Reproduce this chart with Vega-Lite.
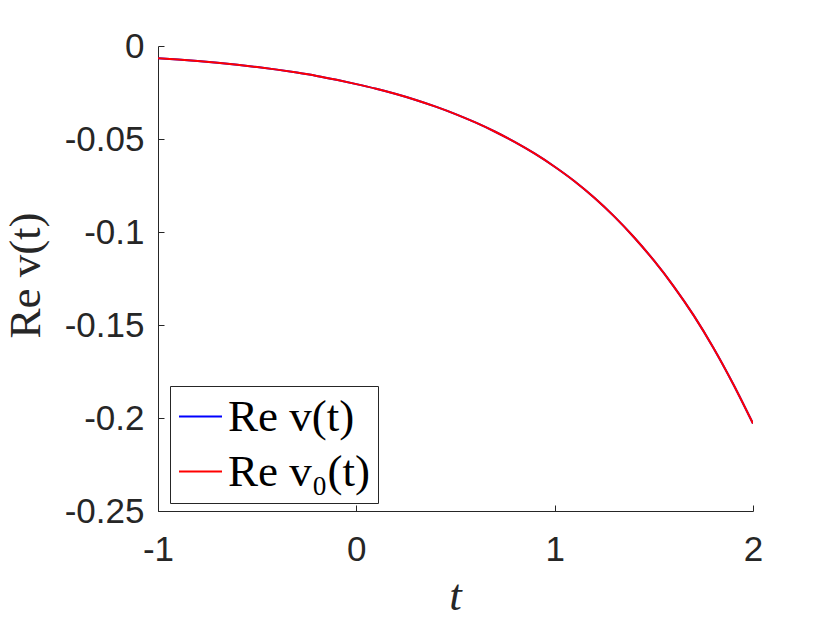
{
  "$schema": "https://vega.github.io/schema/vega-lite/v6.json",
  "width": 595,
  "height": 465,
  "autosize": {"type": "none"},
  "padding": {"left": 158, "top": 46, "right": 77, "bottom": 112},
  "background": "white",
  "config": {
    "view": {"stroke": null},
    "axis": {
      "grid": false,
      "domainColor": "#262626",
      "domainWidth": 1,
      "tickColor": "#262626",
      "tickWidth": 1,
      "tickSize": -6,
      "labelFont": "Liberation Sans",
      "labelFontSize": 35,
      "labelColor": "#262626",
      "titleColor": "#262626",
      "titleFont": "Liberation Serif",
      "titleFontWeight": "normal",
      "titleFontSize": 45
    },
    "legend": {
      "strokeColor": "#262626",
      "fillColor": "white",
      "padding": 8,
      "symbolType": "stroke",
      "symbolSize": 1849,
      "symbolStrokeWidth": 2,
      "labelFont": "Liberation Serif",
      "labelFontSize": 45,
      "labelColor": "black",
      "labelOffset": 5,
      "rowPadding": 9,
      "labelLimit": 400
    }
  },
  "data": {
    "values": [
      {"t": -1.0, "v": -0.0066, "s": "Re v(t)"},
      {"t": -0.9, "v": -0.0073, "s": "Re v(t)"},
      {"t": -0.8, "v": -0.0081, "s": "Re v(t)"},
      {"t": -0.7, "v": -0.0090, "s": "Re v(t)"},
      {"t": -0.6, "v": -0.0101, "s": "Re v(t)"},
      {"t": -0.5, "v": -0.0113, "s": "Re v(t)"},
      {"t": -0.4, "v": -0.0127, "s": "Re v(t)"},
      {"t": -0.3, "v": -0.0143, "s": "Re v(t)"},
      {"t": -0.2, "v": -0.0161, "s": "Re v(t)"},
      {"t": -0.1, "v": -0.0182, "s": "Re v(t)"},
      {"t": 0.0, "v": -0.0205, "s": "Re v(t)"},
      {"t": 0.1, "v": -0.0230, "s": "Re v(t)"},
      {"t": 0.2, "v": -0.0258, "s": "Re v(t)"},
      {"t": 0.3, "v": -0.0290, "s": "Re v(t)"},
      {"t": 0.4, "v": -0.0326, "s": "Re v(t)"},
      {"t": 0.5, "v": -0.0366, "s": "Re v(t)"},
      {"t": 0.6, "v": -0.0411, "s": "Re v(t)"},
      {"t": 0.7, "v": -0.0461, "s": "Re v(t)"},
      {"t": 0.8, "v": -0.0517, "s": "Re v(t)"},
      {"t": 0.9, "v": -0.0579, "s": "Re v(t)"},
      {"t": 1.0, "v": -0.0649, "s": "Re v(t)"},
      {"t": 1.1, "v": -0.0727, "s": "Re v(t)"},
      {"t": 1.2, "v": -0.0816, "s": "Re v(t)"},
      {"t": 1.3, "v": -0.0916, "s": "Re v(t)"},
      {"t": 1.4, "v": -0.1028, "s": "Re v(t)"},
      {"t": 1.5, "v": -0.1153, "s": "Re v(t)"},
      {"t": 1.6, "v": -0.1292, "s": "Re v(t)"},
      {"t": 1.7, "v": -0.1447, "s": "Re v(t)"},
      {"t": 1.8, "v": -0.1622, "s": "Re v(t)"},
      {"t": 1.9, "v": -0.1817, "s": "Re v(t)"},
      {"t": 2.0, "v": -0.2030, "s": "Re v(t)"},
      {"t": -1.0, "v": -0.0066, "s": "Re v₀(t)"},
      {"t": -0.9, "v": -0.0073, "s": "Re v₀(t)"},
      {"t": -0.8, "v": -0.0081, "s": "Re v₀(t)"},
      {"t": -0.7, "v": -0.0090, "s": "Re v₀(t)"},
      {"t": -0.6, "v": -0.0101, "s": "Re v₀(t)"},
      {"t": -0.5, "v": -0.0113, "s": "Re v₀(t)"},
      {"t": -0.4, "v": -0.0127, "s": "Re v₀(t)"},
      {"t": -0.3, "v": -0.0143, "s": "Re v₀(t)"},
      {"t": -0.2, "v": -0.0161, "s": "Re v₀(t)"},
      {"t": -0.1, "v": -0.0182, "s": "Re v₀(t)"},
      {"t": 0.0, "v": -0.0205, "s": "Re v₀(t)"},
      {"t": 0.1, "v": -0.0230, "s": "Re v₀(t)"},
      {"t": 0.2, "v": -0.0258, "s": "Re v₀(t)"},
      {"t": 0.3, "v": -0.0290, "s": "Re v₀(t)"},
      {"t": 0.4, "v": -0.0326, "s": "Re v₀(t)"},
      {"t": 0.5, "v": -0.0366, "s": "Re v₀(t)"},
      {"t": 0.6, "v": -0.0411, "s": "Re v₀(t)"},
      {"t": 0.7, "v": -0.0461, "s": "Re v₀(t)"},
      {"t": 0.8, "v": -0.0517, "s": "Re v₀(t)"},
      {"t": 0.9, "v": -0.0579, "s": "Re v₀(t)"},
      {"t": 1.0, "v": -0.0649, "s": "Re v₀(t)"},
      {"t": 1.1, "v": -0.0727, "s": "Re v₀(t)"},
      {"t": 1.2, "v": -0.0816, "s": "Re v₀(t)"},
      {"t": 1.3, "v": -0.0916, "s": "Re v₀(t)"},
      {"t": 1.4, "v": -0.1028, "s": "Re v₀(t)"},
      {"t": 1.5, "v": -0.1153, "s": "Re v₀(t)"},
      {"t": 1.6, "v": -0.1292, "s": "Re v₀(t)"},
      {"t": 1.7, "v": -0.1447, "s": "Re v₀(t)"},
      {"t": 1.8, "v": -0.1622, "s": "Re v₀(t)"},
      {"t": 1.9, "v": -0.1817, "s": "Re v₀(t)"},
      {"t": 2.0, "v": -0.2030, "s": "Re v₀(t)"}
    ]
  },
  "mark": {"type": "line", "strokeWidth": 2, "interpolate": "monotone", "clip": true},
  "encoding": {
    "x": {
      "field": "t",
      "type": "quantitative",
      "scale": {"domain": [-1, 2], "nice": false, "zero": false},
      "axis": {
        "values": [-1, 0, 1, 2],
        "labelExpr": "datum.value < 0 ? '-' + format(-datum.value, '~g') : format(datum.value, '~g')",
        "labelPadding": 27,
        "labelFlush": false,
        "title": "t",
        "titleFontStyle": "italic",
        "titleBaseline": "alphabetic",
        "titleX": 297,
        "titleY": 98
      }
    },
    "y": {
      "field": "v",
      "type": "quantitative",
      "scale": {"domain": [-0.25, 0], "nice": false, "zero": false},
      "axis": {
        "values": [0, -0.05, -0.1, -0.15, -0.2, -0.25],
        "labelExpr": "datum.value < 0 ? '-' + format(-datum.value, '~g') : format(datum.value, '~g')",
        "labelPadding": 20,
        "labelFlush": false,
        "title": "Re v(t)",
        "titleAngle": -90,
        "titleAlign": "center",
        "titleBaseline": "alphabetic",
        "titleX": -119,
        "titleY": 229
      }
    },
    "color": {
      "field": "s",
      "type": "nominal",
      "scale": {"domain": ["Re v(t)", "Re v₀(t)"], "range": ["#0000ff", "#ff0000"]},
      "legend": {"title": null, "orient": "none", "legendX": 12, "legendY": 340}
    }
  }
}
